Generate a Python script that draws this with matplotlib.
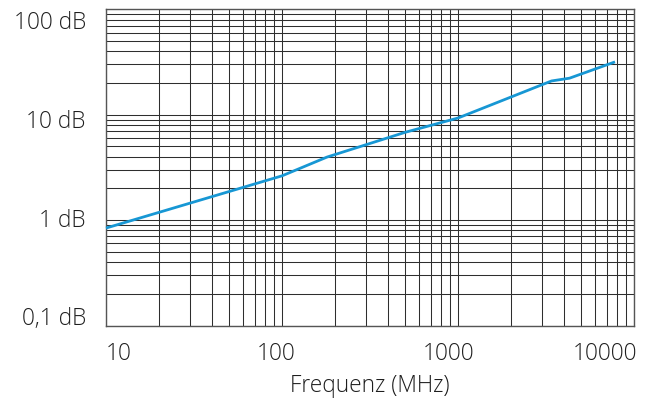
import numpy as np
import matplotlib
matplotlib.use("Agg")
import matplotlib.pyplot as plt
from matplotlib.ticker import LogLocator, NullFormatter, FixedLocator
from matplotlib.transforms import ScaledTranslation

# Data
freq_mhz = [10, 100, 180, 500, 1000, 3400, 4300, 7800]
atten_db = [0.84, 2.63, 3.96, 6.8, 9.3, 20.9, 22.2, 31.7]

x_ticks = [10, 100, 1000, 10000]
x_tick_labels = ["10", "100", "1000", "10000"]
y_ticks = [100, 10, 1, 0.1]
y_tick_labels = ["100 dB", "10 dB", "1 dB", "0,1 dB"]
x_label = "Frequenz (MHz)"

plt.rcParams['font.family'] = ['Open Sans', 'DejaVu Sans']
plt.rcParams['font.weight'] = 300
text_color = '#1e1e1e'
grid_color = '#2e2e2e'
line_color = '#1797d4'
fs = 16.3

fig = plt.figure(figsize=(6.53, 4.0), dpi=100)
W, H = 653, 400
left, right, top, bottom = 106, 634, 9.3, 325.5
ax = fig.add_axes([left / W, 1 - bottom / H, (right - left) / W, (bottom - top) / H])

ax.set_xscale('log')
ax.set_yscale('log')
ax.set_xlim(10, 10000)
ax.set_ylim(0.1, 100)

ax.xaxis.set_major_locator(FixedLocator(x_ticks))
ax.yaxis.set_major_locator(FixedLocator(y_ticks))
ax.xaxis.set_minor_locator(LogLocator(base=10, subs=np.arange(2, 10)))
ax.yaxis.set_minor_locator(LogLocator(base=10, subs=np.arange(2, 10)))
ax.xaxis.set_minor_formatter(NullFormatter())
ax.yaxis.set_minor_formatter(NullFormatter())

ax.set_xticklabels(x_tick_labels, fontweight=300)
ax.set_yticklabels(y_tick_labels, fontweight=300)

ax.grid(True, which='both', color=grid_color, linewidth=0.75)
ax.set_axisbelow(True)
for s in ax.spines.values():
    s.set_color('#555555')
    s.set_linewidth(1.0)

ax.tick_params(which='both', length=0)
ax.tick_params(axis='x', pad=12, labelsize=fs, labelcolor=text_color)
ax.tick_params(axis='y', pad=14.5, labelsize=fs, labelcolor=text_color)

ax.plot(freq_mhz, atten_db, color=line_color, linewidth=2.0, solid_joinstyle='round',
        solid_capstyle='butt', clip_on=False, zorder=3)

ax.set_xlabel(x_label, fontsize=fs, color=text_color, labelpad=6, fontweight=300)

# Label placement adjustments to mimic the reference
fig.canvas.draw()
xl = ax.get_xticklabels()
xl[0].set_ha('left')
xl[-1].set_ha('right')
x_off_px = [0, -6, -9, 3]
for lab, dx in zip(xl, x_off_px):
    lab.set_transform(lab.get_transform() + ScaledTranslation(dx / 100, 0, fig.dpi_scale_trans))
yl = ax.get_yticklabels()
y_off_px = [-10.5, -4, 2.5, 9.5]
for lab, dy in zip(yl, y_off_px):
    lab.set_transform(lab.get_transform() + ScaledTranslation(0, dy / 100, fig.dpi_scale_trans))

fig.savefig('out.png', dpi=100, facecolor='white')
